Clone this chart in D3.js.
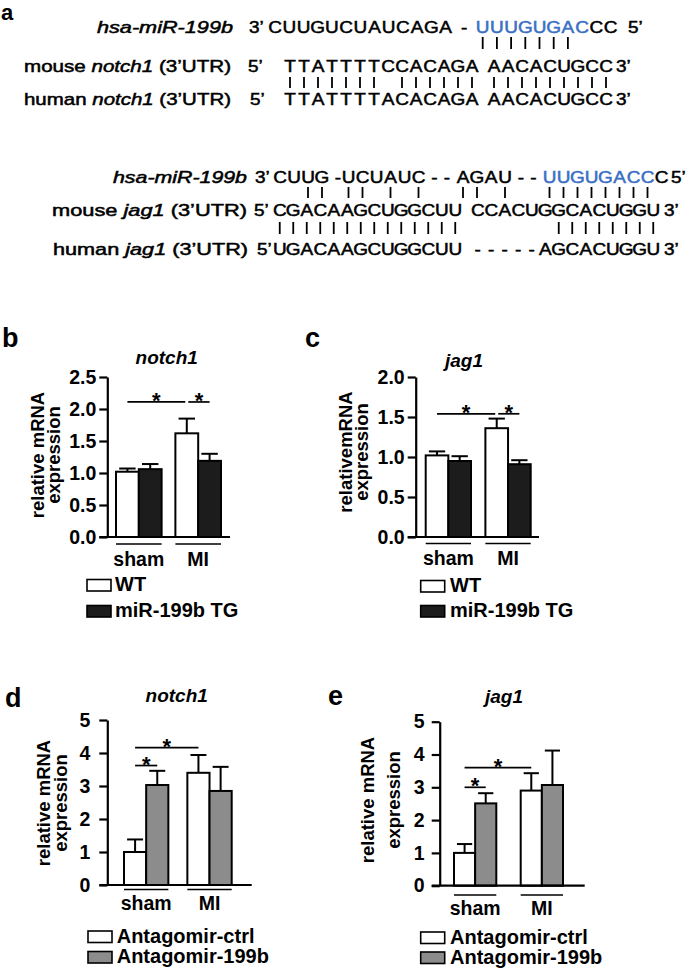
<!DOCTYPE html>
<html><head><meta charset="utf-8">
<script src="https://cdn.jsdelivr.net/npm/d3@7"></script>
<style>
body{margin:0;background:#fff;}
svg text{font-family:"Liberation Sans", Arial, Helvetica, sans-serif;fill:#000;}
.seq text{stroke:#000;stroke-width:0.5px;}
.seq tspan.blue{fill:#3a6fc4;stroke:#3a6fc4;}
.bars text{font-weight:bold;}
</style></head>
<body><svg id="c" width="688" height="972"></svg>
<script>
// ================= DATA =================
// ---- panel a: sequence alignments ----
const notchLabels = [[["hsa-miR-199b",1]], [["mouse ",0],["notch1",1],[" (3’UTR)",0]], [["human ",0],["notch1",1],[" (3’UTR)",0]]];
const notchSeqs   = ["CUUGUCUAUCAGA - UUUGUGACCC", "TTATTTTCCACAGA AACACUGCC", "TTATTTTACACAGA AACACUGCC"];
const notchEnds   = [["3’","5’"],["5’","3’"],["5’","3’"]];
const notchSeed   = [16, 24];                       // blue characters in row 0
const notchPairsTop = [16,17,18,19,20,21,22];        // row0 chars paired with row1
const notchPairsBot = [0,1,2,3,4,5,6,8,9,10,11,12,13,15,16,17,18,19,20,21,22,23]; // row1 chars paired with row2

const jagLabels = [[["hsa-miR-199b",1]], [["mouse ",0],["jag1",1],[" (3’UTR)",0]], [["human ",0],["jag1",1],[" (3’UTR)",0]]];
const jagSeqs   = ["CUUG -UCUAUC - - AGAU - - UUGUGACCC", "CGACAAGCUGGCUU CCACUGGCACUGGU", "UGACAAGCUGGCUU -----AGCACUGGU"];
const jagEnds   = [["3’","5’"],["5’","3’"],["5’","3’"]];
const jagSeed   = [26, 34];
const jagPairsTop = [2,3,6,7,9,11,17,18,20,26,27,28,29,30,31,32,33];
const jagPairsBot = [0,1,2,3,4,5,6,7,8,9,10,11,12,13,21,22,23,24,25,26,27,28];

// ---- panel b ----
const bGroups = ["sham","MI"];
const bSeries = ["WT","miR-199b TG"];
const bValues = [[1.02, 1.62],[1.06, 1.19]];
const bErrors = [[0.05, 0.23],[0.08, 0.11]];
const bTicks  = [0,0.5,1.0,1.5,2.0,2.5];
const bSig    = [{a:["sham",0], b:["MI",0], y:2.11}, {a:["MI",0], b:["MI",1], y:2.11}];

// ---- panel c ----
const cGroups = ["sham","MI"];
const cSeries = ["WT","miR-199b TG"];
const cValues = [[1.02, 1.36],[0.95, 0.91]];
const cErrors = [[0.05, 0.12],[0.06, 0.05]];
const cTicks  = [0,0.5,1.0,1.5,2.0];
const cSig    = [{a:["sham",0], b:["MI",0], y:1.54}, {a:["MI",0], b:["MI",1], y:1.54}];

// ---- panel d ----
const dGroups = ["sham","MI"];
const dSeries = ["Antagomir-ctrl","Antagomir-199b"];
const dValues = [[1.0, 3.40],[3.03, 2.85]];
const dErrors = [[0.38, 0.54],[0.43, 0.73]];
const dTicks  = [0,1,2,3,4,5];
const dSig    = [{a:["sham",0], b:["sham",1], y:3.62}, {a:["sham",0], b:["MI",0], y:4.16}];

// ---- panel e ----
const eGroups = ["sham","MI"];
const eSeries = ["Antagomir-ctrl","Antagomir-199b"];
const eValues = [[1.0, 2.90],[2.51, 3.07]];
const eErrors = [[0.27, 0.53],[0.31, 1.05]];
const eTicks  = [0,1,2,3,4,5];
const eSig    = [{a:["sham",0], b:["sham",1], y:3.0}, {a:["sham",0], b:["MI",0], y:3.6}];

// ================= DRAWING =================
const svg = d3.select("#c");
const SX = 1.15;   // horizontal glyph stretch of panel a text

svg.append("text").attr("x",1).attr("y",20).attr("font-size",22).attr("font-weight","bold").text("a");

const gA = svg.append("g").attr("class","seq").attr("transform",`scale(${SX},1)`);

function centers(str, L){
  let x = L.start;
  return Array.from(str).map(ch=>{
    const a = ch===" " ? L.space : (ch==="-" ? L.hyph : L.pitch);
    const c = x + a/2; x += a; return c;
  });
}

function drawBlock(labels, seqs, ends, seed, pairsTop, pairsBot, layout){
  const allCenters = [];
  seqs.forEach((s,i)=>{
    const L = layout.rows[i];
    const y = layout.ys[i];
    const t = gA.append("text").attr("x",(L.labelRight - L.labelW)/SX).attr("y",y)
      .attr("font-size",16.5).attr("textLength",L.labelW/SX).attr("lengthAdjust","spacingAndGlyphs");
    labels[i].forEach(p=>t.append("tspan").attr("font-style",p[1]?"italic":"normal").text(p[0]));
    gA.append("text").attr("x",L.leftPrime/SX).attr("y",y).attr("font-size",16.5).text(ends[i][0]);
    const cs = centers(s, L);
    allCenters.push(cs);
    const chars = Array.from(s).map((ch,k)=>({ch,k,c:cs[k]})).filter(d=>d.ch!==" ");
    gA.append("text").attr("y",y).attr("font-size",16.5).attr("text-anchor","middle")
      .selectAll("tspan").data(chars).join("tspan")
      .attr("x",d=>d.c/SX).attr("y",y)
      .attr("class",d=> (i===0 && d.k>=seed[0] && d.k<seed[1]) ? "blue" : null)
      .text(d=>d.ch);
    gA.append("text").attr("x",L.rightPrime/SX).attr("y",y).attr("font-size",16.5).text(ends[i][1]);
  });
  const pg = svg.append("g").attr("stroke","#000").attr("stroke-width",1.8);
  pg.selectAll("line.t").data(pairsTop).join("line")
    .attr("x1",k=>allCenters[0][k]).attr("x2",k=>allCenters[0][k])
    .attr("y1",layout.pipes[0][0]).attr("y2",layout.pipes[0][1]);
  pg.selectAll("line.b").data(pairsBot).join("line")
    .attr("x1",k=>allCenters[1][k]).attr("x2",k=>allCenters[1][k])
    .attr("y1",layout.pipes[1][0]).attr("y2",layout.pipes[1][1]);
}

drawBlock(notchLabels, notchSeqs, notchEnds, notchSeed, notchPairsTop, notchPairsBot, {
  ys:[33,72,105], pipes:[[37,49],[77,88]],
  rows:[
    {labelRight:233, labelW:136, leftPrime:249, start:268, pitch:14.2, space:8, hyph:7, rightPrime:628},
    {labelRight:231, labelW:207, leftPrime:248, start:283, pitch:14, space:8, hyph:7, rightPrime:616},
    {labelRight:231, labelW:207, leftPrime:250, start:283, pitch:14, space:8, hyph:7, rightPrime:616}
  ]});

drawBlock(jagLabels, jagSeqs, jagEnds, jagSeed, jagPairsTop, jagPairsBot, {
  ys:[183,216,255], pipes:[[187,198],[222,234]],
  rows:[
    {labelRight:247, labelW:134, leftPrime:255, start:273, pitch:14, space:5.5, hyph:7, rightPrime:671},
    {labelRight:247, labelW:195, leftPrime:254, start:273, pitch:13.5, space:9, hyph:7, rightPrime:664},
    {labelRight:248, labelW:195, leftPrime:257, start:273, pitch:13.5, space:9, hyph:13.5, rightPrime:664}
  ]});

// ---------- bar panels ----------
function barPanel(p){
  const g = svg.append("g").attr("class","bars");
  const y = d3.scaleLinear().domain([0,p.yMax]).range([p.y0,p.yTop]);
  const x0 = d3.scaleBand().domain(p.groups).range([p.bandL,p.bandR]).paddingInner(p.padIn);
  const x1 = d3.scaleBand().domain(d3.range(p.series.length)).range([0,x0.bandwidth()]);
  const bw = x1.bandwidth();
  const cx = (grp,si)=> x0(grp)+x1(si)+bw/2;

  g.append("text").attr("x",p.letter[0]).attr("y",p.letter[1]).attr("font-size",27).text(p.letter[2]);
  g.append("text").attr("x",p.title[0]).attr("y",p.title[1]).attr("font-size",19).attr("font-style","italic").attr("text-anchor","middle").text(p.title[2]);

  p.ylab.lines.forEach((ln,i)=>{
    g.append("text").attr("transform",`translate(${p.ylab.xs[i]},${p.ylab.cy}) rotate(-90)`)
      .attr("text-anchor","middle").attr("font-size",18.5).text(ln);
  });

  const eg = g.append("g").attr("stroke","#000").attr("stroke-width",2);
  p.series.forEach((s,si)=>p.groups.forEach((grp,gi)=>{
    const v=p.values[si][gi], e=p.errors[si][gi], c=cx(grp,si);
    eg.append("line").attr("x1",c).attr("x2",c).attr("y1",y(v)).attr("y2",y(v+e));
    eg.append("line").attr("x1",c-bw*0.36).attr("x2",c+bw*0.36).attr("y1",y(v+e)).attr("y2",y(v+e));
  }));
  p.series.forEach((s,si)=>{
    g.append("g").selectAll("rect").data(p.groups).join("rect")
      .attr("x",grp=>x0(grp)+x1(si)).attr("width",bw)
      .attr("y",(grp,gi)=>y(p.values[si][gi])).attr("height",(grp,gi)=>y(0)-y(p.values[si][gi]))
      .attr("fill",p.fills[si]).attr("stroke","#000").attr("stroke-width",2);
  });

  const ax = g.append("g").attr("transform",`translate(${p.axisX},0)`)
    .call(d3.axisLeft(y).tickValues(p.ticks).tickSize(8).tickSizeOuter(0).tickPadding(p.tickPad).tickFormat(d3.format(p.fmt)));
  ax.selectAll("path,line").attr("stroke","#000").attr("stroke-width",2.2);
  ax.selectAll("text").attr("font-size",19.5).attr("fill","#000").attr("font-weight","bold")
    .attr("font-family",'"Liberation Sans", Arial, sans-serif');
  g.append("line").attr("x1",p.axisX-8).attr("x2",p.xEnd).attr("y1",y(0)).attr("y2",y(0)).attr("stroke","#000").attr("stroke-width",2.2);
  g.selectAll("line.grp").data(p.groups).join("line")
    .attr("x1",d=>x0(d)).attr("x2",d=>x0(d)+x0.bandwidth())
    .attr("y1",p.underY).attr("y2",p.underY).attr("stroke","#000").attr("stroke-width",1.6);
  g.selectAll("text.grp").data(p.groups).join("text")
    .attr("x",d=>x0(d)+x0.bandwidth()/2).attr("y",p.grpY).attr("text-anchor","middle").attr("font-size",19.5).text(d=>d);

  p.sig.forEach(s=>{
    let xa = cx(s.a[0],s.a[1]), xb = cx(s.b[0],s.b[1]);
    if (p.splitSig){ if (s.a[0]===s.b[0]) xa += 1.5; else xb -= 1.5; }
    g.append("line").attr("x1",xa).attr("x2",xb).attr("y1",y(s.y)).attr("y2",y(s.y)).attr("stroke","#000").attr("stroke-width",1.7);
    g.append("text").attr("x",(xa+xb)/2).attr("y",y(s.y)+6).attr("text-anchor","middle").attr("font-size",22).text("*");
  });

  p.series.forEach((s,si)=>{
    g.append("rect").attr("x",p.leg.x).attr("y",p.leg.ys[si]-11.5).attr("width",24).attr("height",11.5)
      .attr("fill",p.fills[si]).attr("stroke","#000").attr("stroke-width",1.6);
    g.append("text").attr("x",p.leg.tx).attr("y",p.leg.ys[si]).attr("font-size",20).text(s);
  });
}

barPanel({groups:bGroups, series:bSeries, values:bValues, errors:bErrors, ticks:bTicks, sig:bSig, splitSig:true,
  fills:["#ffffff","#1c1c1c"], yMax:2.5, y0:537, yTop:377, fmt:".1f", axisX:107.3, bandL:116, bandR:221, padIn:0.232,
  xEnd:230, tickPad:3, underY:544, grpY:566, letter:[2,347,"b"], title:[166.7,364,"notch1"],
  ylab:{lines:["relative mRNA","expression"], xs:[44,60], cy:455}, leg:{x:87, tx:115, ys:[591,617]}});

barPanel({groups:cGroups, series:cSeries, values:cValues, errors:cErrors, ticks:cTicks, sig:cSig, splitSig:true,
  fills:["#ffffff","#1c1c1c"], yMax:2.0, y0:537, yTop:377, fmt:".1f", axisX:415.7, bandL:425.7, bandR:530.7, padIn:0.241,
  xEnd:539, tickPad:3, underY:543.5, grpY:565, letter:[305,347,"c"], title:[464,366.5,"jag1"],
  ylab:{lines:["relativemRNA","expression"], xs:[352,368], cy:452}, leg:{x:420.7, tx:450, ys:[592,617]}});

barPanel({groups:dGroups, series:dSeries, values:dValues, errors:dErrors, ticks:dTicks, sig:dSig, splitSig:false,
  fills:["#ffffff","#8c8c8c"], yMax:5, y0:885, yTop:720, fmt:"d", axisX:107.3, bandL:124, bandR:231.7, padIn:0.3,
  xEnd:251.7, tickPad:9, underY:889.5, grpY:910, letter:[5,707,"d"], title:[176.7,702,"notch1"],
  ylab:{lines:["relative mRNA","expression"], xs:[50,67], cy:803}, leg:{x:88, tx:116.7, ys:[942.5,963]}});

barPanel({groups:eGroups, series:eSeries, values:eValues, errors:eErrors, ticks:eTicks, sig:eSig, splitSig:false,
  fills:["#ffffff","#8c8c8c"], yMax:5, y0:885.7, yTop:721.7, fmt:"d", axisX:439.7, bandL:454, bandR:563, padIn:0.366,
  xEnd:584.7, tickPad:7, underY:895, grpY:915, letter:[328,705,"e"], title:[504,703,"jag1"],
  ylab:{lines:["relative mRNA","expression"], xs:[374,400], cy:800}, leg:{x:420.7, tx:450, ys:[943.5,963.5]}});
</script>
</body></html>
